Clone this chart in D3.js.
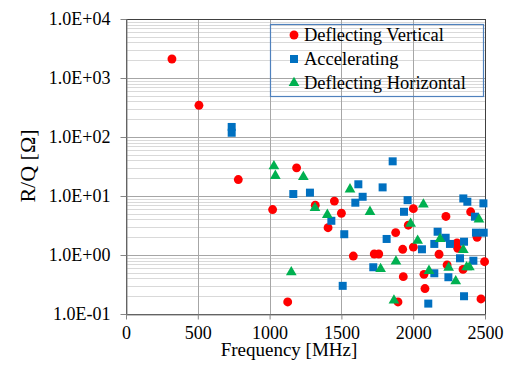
<!DOCTYPE html>
<html>
<head>
<meta charset="utf-8">
<script src="https://cdn.jsdelivr.net/npm/d3@7"></script>
<style>
  body { margin: 0; background: #fff; }
  text { font-family: "Liberation Serif", "Times New Roman", serif; fill: #000; }
</style>
</head>
<body>
<div id="chart"></div>
<script>
// data: [frequency MHz, R/Q ohm]
const deflVertical = [
  [320, 2100], [508, 345], [782, 19], [1021, 5.9], [1188, 30], [1126, 0.16],
  [1318, 7.0], [1407, 2.9], [1451, 8.2], [1500, 5.1], [1583, 0.96], [1729, 1.04],
  [1760, 1.04], [1878, 2.4], [1894, 0.16], [1927, 1.25], [1931, 0.43], [1966, 3.2],
  [2001, 6.1], [2001, 1.36], [2075, 0.47], [2082, 0.27], [2180, 1.03], [2228, 4.5],
  [2236, 0.68], [2305, 1.6], [2310, 1.3], [2347, 0.57], [2400, 5.4], [2445, 2.0],
  [2472, 0.18], [2497, 0.77]
];
const accelerating = [
  [736, 148], [736, 118], [1165, 10.8], [1281, 11.4], [1430, 3.8], [1509, 0.30],
  [1520, 2.25], [1597, 7.7], [1618, 15.8], [1648, 9.7], [1722, 0.62], [1787, 14.0],
  [1815, 1.87], [1857, 38.7], [1936, 5.4], [1961, 8.5], [2061, 1.25], [2105, 0.15],
  [2147, 1.54], [2147, 0.49], [2170, 2.48], [2226, 1.96], [2245, 0.42], [2256, 1.54],
  [2326, 0.88], [2349, 9.1], [2354, 1.68], [2354, 0.20], [2377, 8.0], [2419, 0.80],
  [2430, 4.46], [2437, 2.39], [2489, 7.5], [2491, 2.39]
];
const deflHorizontal = [
  [1030, 32], [1040, 22], [1151, 0.51], [1235, 21], [1316, 6.3], [1402, 4.8],
  [1560, 13], [1699, 5.4], [1773, 0.58], [1866, 0.17], [1880, 0.78], [1982, 3.4],
  [2031, 1.75], [2071, 7.2], [2110, 0.54], [2187, 1.87], [2247, 0.61], [2296, 0.36],
  [2349, 1.22], [2372, 0.62], [2391, 0.62], [2458, 4.0]
];
const xTicks = [0, 500, 1000, 1500, 2000, 2500];
const yTicks = [0.1, 1, 10, 100, 1000, 10000];
const yTickLabels = ["1.0E-01", "1.0E+00", "1.0E+01", "1.0E+02", "1.0E+03", "1.0E+04"];
const seriesNames = ["Deflecting Vertical", "Accelerating", "Deflecting Horizontal"];

const width = 508, height = 374;
const margin = { top: 19, right: 23, bottom: 60, left: 126 };
const innerWidth = width - margin.left - margin.right;
const innerHeight = height - margin.top - margin.bottom;

const svg = d3.select('#chart')
  .append('svg')
  .attr('width', width)
  .attr('height', height);

const g = svg.append('g')
  .attr('transform', `translate(${margin.left},${margin.top})`);

const x = d3.scaleLinear().domain([0, 2500]).range([0, innerWidth]);
const y = d3.scaleLog().domain([0.1, 10000]).range([innerHeight, 0]);

// minor gridlines (2..9 of every decade)
const minor = [];
yTicks.slice(0, -1).forEach(d => { for (let k = 2; k <= 9; k++) minor.push(d * k); });
g.selectAll('.minor')
  .data(minor)
  .enter().append('line')
  .attr('x1', 0).attr('x2', innerWidth)
  .attr('y1', d => Math.round(y(d)) + 0.5).attr('y2', d => Math.round(y(d)) + 0.5)
  .attr('stroke', '#d9d9d9');

// major gridlines
g.selectAll('.hmajor')
  .data(yTicks)
  .enter().append('line')
  .attr('x1', 0).attr('x2', innerWidth)
  .attr('y1', d => Math.round(y(d)) + 0.5).attr('y2', d => Math.round(y(d)) + 0.5)
  .attr('stroke', '#a6a6a6');
g.selectAll('.vmajor')
  .data(xTicks)
  .enter().append('line')
  .attr('y1', 0).attr('y2', innerHeight)
  .attr('x1', d => Math.round(x(d)) + 0.5).attr('x2', d => Math.round(x(d)) + 0.5)
  .attr('stroke', '#a6a6a6');

// plot border
g.append('rect')
  .attr('x', 0.5).attr('y', 0.5)
  .attr('width', innerWidth).attr('height', innerHeight)
  .attr('fill', 'none')
  .attr('stroke', '#404040');

// axes
const xAxis = g.append('g')
  .attr('transform', `translate(0,${innerHeight + 0.5})`)
  .call(d3.axisBottom(x).tickValues(xTicks).tickFormat(d3.format('d')).tickSizeInner(5).tickSizeOuter(0).tickPadding(7));
const yAxis = g.append('g')
  .attr('transform', 'translate(0.5,0)')
  .call(d3.axisLeft(y).tickValues(yTicks).tickFormat((d, i) => yTickLabels[i]).tickSizeInner(6).tickSizeOuter(0).tickPadding(10));
[xAxis, yAxis].forEach(a => {
  a.select('.domain').attr('stroke', '#868686');
  a.selectAll('.tick line').attr('stroke', '#868686');
  a.selectAll('.tick text')
    .style('font-family', '"Liberation Serif", serif')
    .attr('font-size', 18)
    .attr('fill', '#000');
});

// markers
const circle = d3.symbol().type(d3.symbolCircle).size(62);
const square = d3.symbol().type(d3.symbolSquare).size(64);
const triangle = d3.symbol().type(d3.symbolTriangle).size(50);

g.selectAll('.dv')
  .data(deflVertical)
  .enter().append('path')
  .attr('d', circle)
  .attr('transform', d => `translate(${x(d[0])},${y(d[1])})`)
  .attr('fill', '#ff0000');

g.selectAll('.acc')
  .data(accelerating)
  .enter().append('path')
  .attr('d', square)
  .attr('transform', d => `translate(${x(d[0])},${y(d[1])})`)
  .attr('fill', '#0070c0');

g.selectAll('.dh')
  .data(deflHorizontal)
  .enter().append('path')
  .attr('d', triangle)
  .attr('transform', d => `translate(${x(d[0])},${y(d[1])})`)
  .attr('fill', '#00b050');

// legend
const legend = svg.append('g').attr('transform', 'translate(270,24)');
legend.append('rect')
  .attr('x', 0.5).attr('y', 0.5)
  .attr('width', 213).attr('height', 72)
  .attr('fill', 'none')
  .attr('stroke', '#4f81bd')
  .attr('stroke-width', 1.2);
const legendSymbols = [circle, square, triangle];
const legendColors = ['#ff0000', '#0070c0', '#00b050'];
seriesNames.forEach((name, i) => {
  const row = legend.append('g').attr('transform', `translate(0,${11 + i * 24})`);
  row.append('path')
    .attr('d', legendSymbols[i])
    .attr('transform', 'translate(24,0)')
    .attr('fill', legendColors[i]);
  row.append('text')
    .attr('x', 34)
    .attr('y', 6)
    .attr('font-size', 18.5)
    .text(name);
});

// axis titles
svg.append('text')
  .attr('x', 289)
  .attr('y', 356)
  .attr('text-anchor', 'middle')
  .attr('font-size', 19)
  .text('Frequency [MHz]');
svg.append('text')
  .attr('transform', 'translate(35,166) rotate(-90)')
  .attr('text-anchor', 'middle')
  .attr('font-size', 22)
  .text('R/Q [Ω]');
</script>
</body>
</html>
